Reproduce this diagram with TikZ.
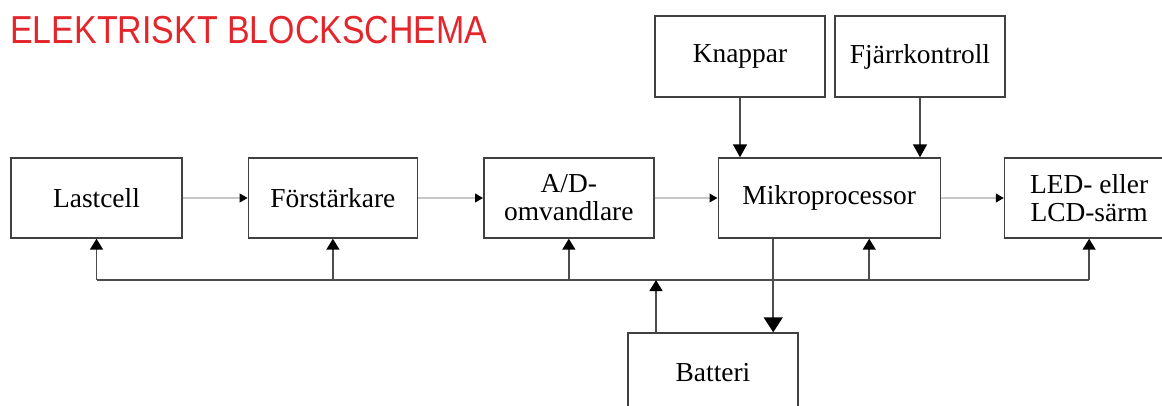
\documentclass[tikz,border=0pt]{standalone}
\usepackage{fontspec}
\setmainfont{Liberation Serif}
\newfontfamily\titlefont{Liberation Sans}
\usetikzlibrary{positioning,arrows.meta}
\definecolor{titlered}{HTML}{E3262B}
\begin{document}
\begin{tikzpicture}
[
  node distance=1.3cm,
  blk/.style={draw=black!75,line width=0.8pt,minimum height=1.6cm,inner sep=0pt,
    align=center,font=\fontsize{15.6}{16}\selectfont},
  sig/.style={draw=black!22,line width=1.5pt,-{Triangle[color=black,length=0.16cm,width=0.17cm]}},
  feed/.style={draw=black!70,line width=0.85pt,-{Triangle[color=black,length=0.22cm,width=0.26cm]}},
  pwr/.style={draw=black!70,line width=1pt}
]
\useasboundingbox (0,0) rectangle (23.24,8.1);
\clip (0,0) rectangle (23.24,8.1);

% title
\node[anchor=base west,inner sep=0pt,text=titlered,font=\titlefont\fontsize{22.2}{24}\selectfont]
  (title) at (0.2,7.24) {\scalebox{0.87}[1]{ELEKTRISKT BLOCKSCHEMA}};

% signal chain
\node[blk,minimum width=3.42cm] (lastcell) at (1.93,4.14) {Lastcell};
\node[blk,minimum width=3.38cm,right=of lastcell] (forst) {Förstärkare};
\node[blk,minimum width=3.4cm,right=of forst] (adomv) {A/D-\\omvandlare};
\node[blk,minimum width=4.44cm,right=1.26cm of adomv] (mikro) {Mikroprocessor};
\node[blk,minimum width=3.38cm,right=1.26cm of mikro] (led) {LED- eller\\LCD-särm};

\draw[sig] (lastcell) -- (forst);
\draw[sig] (forst) -- (adomv);
\draw[sig] (adomv) -- (mikro);
\draw[sig] (mikro) -- (led);

% inputs
\node[blk,minimum width=3.4cm,minimum height=1.62cm] (knappar) at (14.8,6.97) {Knappar};
\node[blk,minimum width=3.4cm,minimum height=1.62cm] (fjarr) at (18.4,6.97) {Fjärrkontroll};

\draw[feed,-{Triangle[color=black,length=0.26cm,width=0.28cm]}] (knappar.south) -- (knappar.south |- mikro.north);
\draw[feed,-{Triangle[color=black,length=0.26cm,width=0.28cm]}] (fjarr.south) -- (fjarr.south |- mikro.north);

% power
\node[blk,minimum width=3.4cm] (batteri) at (14.26,0.64) {Batteri};
\coordinate (bus) at (0,2.5);

\draw[pwr] (lastcell.south |- bus) -- (led.south |- bus);
\draw[feed] (lastcell.south |- bus) -- (lastcell.south);
\draw[feed] (forst.south |- bus) -- (forst.south);
\draw[feed] (adomv.south |- bus) -- (adomv.south);
\draw[feed] ([xshift=0.8cm]mikro.south |- bus) -- ([xshift=0.8cm]mikro.south);
\draw[feed] (led.south |- bus) -- (led.south);
\draw[feed] ([xshift=-1.14cm]batteri.north) -- ([xshift=-1.14cm]batteri.north |- bus);
\draw[feed,-{Triangle[color=black,length=0.3cm,width=0.38cm]}] ([xshift=-1.12cm]mikro.south) -- ([xshift=-1.12cm]mikro.south |- batteri.north);

\end{tikzpicture}
\end{document}
